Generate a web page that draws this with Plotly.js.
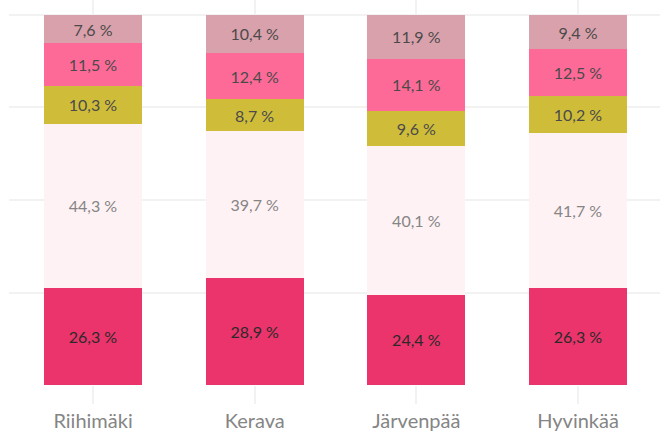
<!DOCTYPE html>
<html><head><meta charset="utf-8">
<script src="https://cdn.plot.ly/plotly-3.0.1.min.js"></script>
<style>html,body{margin:0;padding:0;background:#fff}</style>
</head><body><div id="chart" style="width:660px;height:432px"></div>
<script>
const categories = ["Riihimäki", "Kerava", "Järvenpää", "Hyvinkää"];
const seg1 = [26.3, 28.9, 24.4, 26.3];
const seg2 = [44.3, 39.7, 40.1, 41.7];
const seg3 = [10.3, 8.7, 9.6, 10.2];
const seg4 = [11.5, 12.4, 14.1, 12.5];
const seg5 = [7.6, 10.4, 11.9, 9.4];

const series = [
  {y: seg1, color: "#eb346b", text: "#2a2a2a"},
  {y: seg2, color: "#fff2f4", text: "#858585"},
  {y: seg3, color: "#cfbd3a", text: "#4a4a4a"},
  {y: seg4, color: "#fd6a98", text: "#4a4a4a"},
  {y: seg5, color: "#d9a1ab", text: "#4a4a4a"}
];
const fmt = v => v.toFixed(1).replace('.', ',') + ' %';
const traces = series.map(s => ({
  type: 'bar', x: categories, y: s.y,
  marker: {color: s.color, line: {width: 0}},
  text: s.y.map(fmt), textposition: 'inside', insidetextanchor: 'middle',
  textangle: 0, constraintext: 'none',
  insidetextfont: {family: 'Lato', size: 16, color: s.text},
  hoverinfo: 'none'
}));
const layout = {
  barmode: 'stack', bargap: 0.394, showlegend: false,
  margin: {l: 9, r: 0, t: 0, b: 47},
  paper_bgcolor: '#fff', plot_bgcolor: '#fff',
  font: {family: 'Lato'},
  xaxis: {range: [-0.52, 3.507], showgrid: true, gridcolor: '#f2f2f2', gridwidth: 2,
    ticks: 'outside', ticklen: 18, tickcolor: '#f2f2f2', tickwidth: 2,
    tickfont: {family: 'Lato', size: 20, color: '#858585'}, showline: false, zeroline: false},
  yaxis: {range: [0, 104.05], dtick: 25, showgrid: true, gridcolor: '#f2f2f2', gridwidth: 2,
    showticklabels: false, zeroline: false, showline: false}
};
Plotly.newPlot('chart', traces, layout, {displayModeBar: false, staticPlot: true});
</script></body></html>
